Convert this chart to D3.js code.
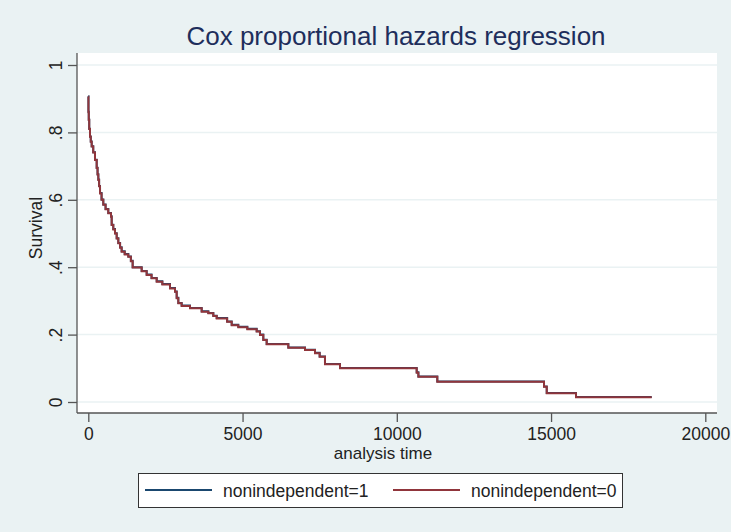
<!DOCTYPE html>
<html>
<head>
<meta charset="utf-8">
<script src="https://cdn.jsdelivr.net/npm/d3@7"></script>
<style>
  body { margin: 0; background: #eaf2f3; }
  svg { display: block; font-family: Arial, "Liberation Sans", sans-serif; }
</style>
</head>
<body>
<script>
// survival estimates
var times = [0, 5, 15, 30, 55, 80, 110, 160, 217, 272, 300, 325, 350, 380, 430, 486, 560, 648, 735, 758,
  810, 865, 920, 973, 1030, 1081, 1180, 1297, 1380, 1438, 1730, 1892, 2050, 2217, 2400, 2648, 2810, 2865,
  2918, 3026, 3297, 3675, 3891, 4052, 4162, 4500, 4648, 4862, 5155, 5458, 5565, 5673, 5782, 6484, 7024,
  7348, 7500, 7672, 8159, 10645, 10700, 11313, 14772, 14860, 15809, 18263];
var survRed = [0.906, 0.86, 0.837, 0.81, 0.787, 0.772, 0.758, 0.74, 0.718, 0.694, 0.675, 0.659, 0.64, 0.619,
  0.6, 0.585, 0.572, 0.56, 0.55, 0.525, 0.512, 0.5, 0.485, 0.471, 0.458, 0.446, 0.438, 0.431, 0.418, 0.399,
  0.388, 0.377, 0.367, 0.357, 0.349, 0.337, 0.327, 0.308, 0.293, 0.285, 0.278, 0.268, 0.263, 0.255, 0.248,
  0.238, 0.228, 0.222, 0.216, 0.209, 0.199, 0.184, 0.171, 0.161, 0.154, 0.145, 0.134, 0.112, 0.1, 0.087,
  0.075, 0.06, 0.045, 0.026, 0.014, 0.014];
var survBlue = [0.907, 0.861, 0.838, 0.811, 0.788, 0.773, 0.759, 0.741, 0.719, 0.695, 0.676, 0.66, 0.641, 0.62,
  0.601, 0.586, 0.573, 0.561, 0.551, 0.526, 0.513, 0.501, 0.486, 0.472, 0.459, 0.447, 0.439, 0.432, 0.419, 0.4,
  0.389, 0.378, 0.368, 0.358, 0.35, 0.338, 0.328, 0.309, 0.294, 0.286, 0.279, 0.269, 0.264, 0.256, 0.249,
  0.239, 0.229, 0.223, 0.217, 0.21, 0.2, 0.185, 0.172, 0.162, 0.155, 0.146, 0.135, 0.113, 0.101, 0.088,
  0.076, 0.061, 0.046, 0.027, 0.015, 0.015];
var xTicks = [0, 5000, 10000, 15000, 20000];
var yTicks = [0, 0.2, 0.4, 0.6, 0.8, 1];
var yTickLabels = ["0", ".2", ".4", ".6", ".8", "1"];
var legendLabels = ["nonindependent=1", "nonindependent=0"];
var colors = ["#1a476f", "#90353b"];

var W = 731, H = 532;
var FS = 17.5;
var svg = d3.select("body").append("svg").attr("width", W).attr("height", H);
svg.append("rect").attr("width", W).attr("height", H).attr("fill", "#eaf2f3");

var plot = { left: 77, right: 717, top: 53, bottom: 413 };
var x = d3.scaleLinear().domain([0, 20000]).range([88.3, 705.3]);
var y = d3.scaleLinear().domain([0, 1]).range([402, 65]);

// plot region
svg.append("rect")
  .attr("x", plot.left).attr("y", plot.top)
  .attr("width", plot.right - plot.left).attr("height", plot.bottom - plot.top)
  .attr("fill", "#fff");

// grid
svg.selectAll(".grid").data(yTicks).enter().append("line")
  .attr("x1", plot.left).attr("x2", plot.right)
  .attr("y1", function (d) { return y(d); }).attr("y2", function (d) { return y(d); })
  .attr("stroke", "#eaf2f3").attr("stroke-width", 1.5);

// title
svg.append("text").attr("x", 396).attr("y", 45).attr("text-anchor", "middle")
  .attr("font-size", 26).attr("fill", "#1e2e5c").text("Cox proportional hazards regression");

// y axis
var yAxis = svg.append("g").attr("transform", "translate(" + plot.left + ",0)")
  .call(d3.axisLeft(y).tickValues(yTicks).tickSize(9).tickFormat(function (d, i) { return yTickLabels[i]; }));
yAxis.select(".domain").attr("d", "M0," + plot.top + "V" + plot.bottom);
yAxis.selectAll("text")
  .attr("font-size", FS).attr("fill", "#222").attr("font-family", "Arial, 'Liberation Sans', sans-serif")
  .attr("text-anchor", "middle").attr("dy", null).attr("x", null)
  .attr("transform", "translate(-15.5,0) rotate(-90)")
  .attr("y", 0);

// x axis
var xAxis = svg.append("g").attr("transform", "translate(0," + plot.bottom + ")")
  .call(d3.axisBottom(x).tickValues(xTicks).tickSize(9).tickFormat(d3.format("d")));
xAxis.select(".domain").attr("d", "M" + plot.left + ",0H" + plot.right);
xAxis.selectAll("text")
  .attr("font-size", FS).attr("fill", "#222").attr("font-family", "Arial, 'Liberation Sans', sans-serif")
  .attr("y", 26.5).attr("dy", null);

svg.selectAll(".domain, .tick line").attr("stroke", "#555").attr("stroke-width", 1.3);

// axis titles
svg.append("text").attr("x", 383).attr("y", 458.5).attr("text-anchor", "middle")
  .attr("font-size", 17).attr("fill", "#222").text("analysis time");
svg.append("text").attr("transform", "translate(42,228) rotate(-90)").attr("text-anchor", "middle")
  .attr("font-size", FS).attr("fill", "#222").text("Survival");

// curves
var line = d3.line().curve(d3.curveStepAfter)
  .x(function (d) { return x(d[0]); }).y(function (d) { return y(d[1]); });
[survBlue, survRed].forEach(function (s, k) {
  svg.append("path")
    .datum(times.map(function (t, i) { return [t, s[i]]; }))
    .attr("d", line).attr("fill", "none")
    .attr("stroke", colors[k]).attr("stroke-width", 2);
});

// legend
var lg = svg.append("g");
lg.append("rect").attr("x", 138.5).attr("y", 473.5).attr("width", 484).attr("height", 34)
  .attr("fill", "#fff").attr("stroke", "#333").attr("stroke-width", 1);
var legX = [145, 393];
legendLabels.forEach(function (lab, i) {
  lg.append("line").attr("x1", legX[i]).attr("x2", legX[i] + 67).attr("y1", 490).attr("y2", 490)
    .attr("stroke", colors[i]).attr("stroke-width", 2);
  lg.append("text").attr("x", legX[i] + 78).attr("y", 496.5).attr("font-size", FS).attr("fill", "#222").text(lab);
});
</script>
</body>
</html>
